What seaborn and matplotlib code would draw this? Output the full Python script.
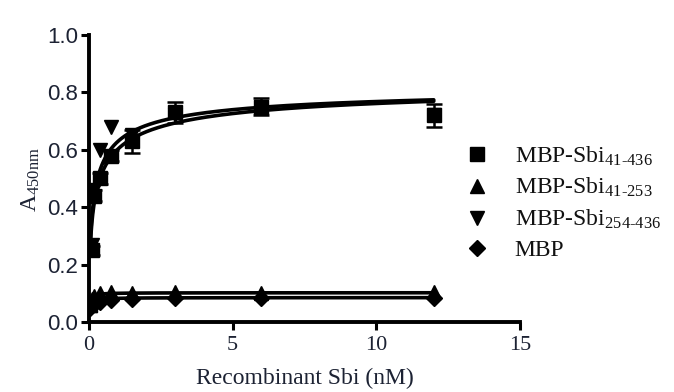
import numpy as np
import pandas as pd
import matplotlib
matplotlib.use("Agg")
import matplotlib.pyplot as plt
from matplotlib.lines import Line2D
import seaborn as sns

# Two-fold dilution series of recombinant Sbi (nM)
conc = [0.047, 0.094, 0.1875, 0.375, 0.75, 1.5, 3.0, 6.0, 12.0]

# Mean A450nm readings per construct
sbi_41_436 = [0.06, 0.25, 0.44, 0.50, 0.58, 0.63, 0.73, 0.75, 0.72]
sbi_41_436_sem = [0.01, 0.015, 0.02, 0.02, 0.02, 0.04, 0.035, 0.03, 0.04]
sbi_41_253 = [0.06, 0.08, 0.09, 0.10, 0.105, 0.10, 0.105, 0.10, 0.105]
sbi_254_436 = [0.06, 0.27, 0.46, 0.60, 0.68, 0.65, 0.72, 0.75, 0.72]
mbp = [0.05, 0.06, 0.07, 0.07, 0.075, 0.08, 0.085, 0.085, 0.085]

# Saturation-binding fit results (Bmax, K, Hill slope) per construct
fit_bmax = [0.85, 0.102, 0.83, 0.085]
fit_k = [0.20, 0.02, 0.15, 0.03]
fit_hill = [0.55, 1.0, 0.60, 1.0]

labels = [
    r"MBP-Sbi$_{\text{41-436}}$",
    r"MBP-Sbi$_{\text{41-253}}$",
    r"MBP-Sbi$_{\text{254-436}}$",
    "MBP",
]
markers = ["s", "^", "v", "D"]
marker_sizes = [9.5, 10, 10, 8]

x_ticks = [0, 5, 10, 15]
y_ticks = [0.0, 0.2, 0.4, 0.6, 0.8, 1.0]

sns.set_theme(style="ticks")
plt.rcParams.update({
    "font.family": ["Liberation Serif", "DejaVu Serif"],
    "mathtext.fontset": "custom",
    "mathtext.rm": "Liberation Serif",
    "mathtext.it": "Liberation Serif:italic",
    "mathtext.bf": "Liberation Serif:bold",
    "text.color": "#111111",
})

fig = plt.figure(figsize=(6.74, 3.92), dpi=100)
ax = fig.add_axes([0.132, 0.1786, 0.6395, 0.7321])

series = [sbi_41_436, sbi_41_253, sbi_254_436, mbp]

# Fitted saturation curves
xs = np.geomspace(conc[0], conc[-1], 500)
rows = []
for lab, bmax, k, h in zip(labels, fit_bmax, fit_k, fit_hill):
    ys = bmax * xs ** h / (k ** h + xs ** h)
    rows.append(pd.DataFrame({"x": xs, "y": ys, "series": lab}))
curves = pd.concat(rows, ignore_index=True)
sns.lineplot(data=curves, x="x", y="y", units="series", estimator=None,
             color="black", linewidth=2.6, legend=False, ax=ax, zorder=2)

# Data points
points = pd.DataFrame({
    "x": np.tile(conc, 4),
    "y": np.concatenate(series),
    "series": np.repeat(labels, len(conc)),
})
for lab, m, ms in zip(labels[::-1], markers[::-1], marker_sizes[::-1]):
    d = points[points["series"] == lab]
    ax.plot(d["x"], d["y"], linestyle="none", marker=m, markersize=ms,
            color="black", zorder=3)

# Error bars for the full-length construct
ax.errorbar(conc, sbi_41_436, yerr=sbi_41_436_sem, fmt="none", ecolor="black",
            elinewidth=1.8, capsize=6, capthick=1.8, zorder=4)

ax.set_xlim(0, 15)
ax.set_ylim(0, 1.0)
ax.set_xticks(x_ticks)
ax.set_yticks(y_ticks)
ax.set_yticklabels([f"{v:.1f}" for v in y_ticks], family="Liberation Sans")
ax.tick_params(axis="both", length=6, width=2.2, color="black",
               labelsize=16, labelcolor="#1c2233")
ax.tick_params(axis="y", pad=2)
ax.tick_params(axis="x", pad=4)
for side in ["top", "right"]:
    ax.spines[side].set_visible(False)
for side in ["left", "bottom"]:
    ax.spines[side].set_linewidth(2.8)
    ax.spines[side].set_color("black")
ax.grid(False)

ax.set_xlabel("Recombinant Sbi (nM)", fontsize=17, color="#1c2233", labelpad=9)
ax.set_ylabel(r"A$_{\text{450nm}}$", fontsize=17, color="#1c2233")
ax.yaxis.set_label_coords(-0.108, 0.495)

handles = [Line2D([], [], linestyle="none", marker=m, markersize=ms, color="black")
           for m, ms in zip(markers, marker_sizes)]
fig.legend(handles, labels, loc="center left", bbox_to_anchor=(0.69, 0.483),
           frameon=False, fontsize=17, handlelength=1.0, handletextpad=1.1,
           labelspacing=0.36, borderpad=0, borderaxespad=0)

fig.savefig("out.png", dpi=100)
